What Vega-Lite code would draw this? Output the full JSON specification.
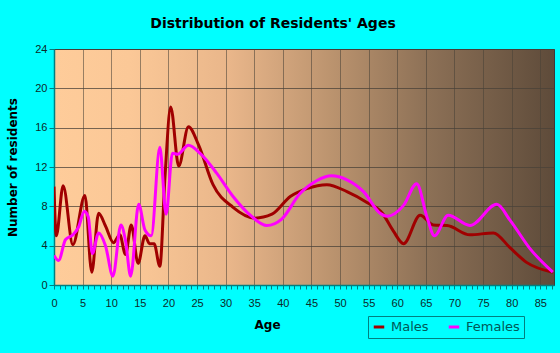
{
  "$schema": "https://vega.github.io/schema/vega-lite/v6.json",
  "width": 500,
  "height": 236,
  "autosize": {"type": "none"},
  "padding": {"left": 54, "top": 49, "right": 6, "bottom": 68},
  "background": "#00FFFF",
  "title": {
    "text": "Distribution of Residents' Ages",
    "font": "DejaVu Sans",
    "fontSize": 14,
    "fontWeight": "bold",
    "color": "#000000",
    "anchor": "middle",
    "dx": -31,
    "offset": 12
  },
  "config": {
    "view": {
      "fill": {
        "gradient": "linear",
        "x1": 0, "y1": 0, "x2": 1, "y2": 0,
        "stops": [
          {"offset": 0, "color": "#FECC9A"},
          {"offset": 0.15, "color": "#FBC897"},
          {"offset": 0.35, "color": "#E9B68A"},
          {"offset": 0.55, "color": "#BC946F"},
          {"offset": 0.75, "color": "#8C7056"},
          {"offset": 1, "color": "#5E4B3A"}
        ]
      },
      "stroke": "#3a3a3a",
      "strokeWidth": 1
    },
    "axis": {
      "labelFont": "Liberation Sans",
      "labelFontSize": 11,
      "labelColor": "#0d2a2a",
      "titleFont": "DejaVu Sans",
      "titleFontSize": 12,
      "titleFontWeight": "bold",
      "titleColor": "#000000",
      "domainColor": "#007F7F",
      "domainWidth": 1.5,
      "tickColor": "#007F7F",
      "gridColor": "#4a4238",
      "gridOpacity": 0.75,
      "gridWidth": 1
    }
  },
  "datasets": {
    "ages": [
      {"age": 0, "value": 10.0, "sex": "Males"},
      {"age": 0.4, "value": 5.0, "sex": "Males"},
      {"age": 1.6, "value": 10.1, "sex": "Males"},
      {"age": 3.3, "value": 4.1, "sex": "Males"},
      {"age": 5.4, "value": 9.1, "sex": "Males"},
      {"age": 6.6, "value": 1.3, "sex": "Males"},
      {"age": 7.8, "value": 7.3, "sex": "Males"},
      {"age": 9.0, "value": 6.0, "sex": "Males"},
      {"age": 10.4, "value": 4.3, "sex": "Males"},
      {"age": 11.5, "value": 5.1, "sex": "Males"},
      {"age": 12.5, "value": 3.1, "sex": "Males"},
      {"age": 13.5, "value": 6.1, "sex": "Males"},
      {"age": 14.7, "value": 2.2, "sex": "Males"},
      {"age": 15.9, "value": 5.0, "sex": "Males"},
      {"age": 16.7, "value": 4.2, "sex": "Males"},
      {"age": 17.5, "value": 4.2, "sex": "Males"},
      {"age": 18.5, "value": 1.9, "sex": "Males"},
      {"age": 19.4, "value": 11.0, "sex": "Males"},
      {"age": 20.4, "value": 18.1, "sex": "Males"},
      {"age": 21.8, "value": 12.1, "sex": "Males"},
      {"age": 23.5, "value": 16.1, "sex": "Males"},
      {"age": 25.3, "value": 14.2, "sex": "Males"},
      {"age": 27.8, "value": 10.2, "sex": "Males"},
      {"age": 31.3, "value": 7.9, "sex": "Males"},
      {"age": 35.1, "value": 6.8, "sex": "Males"},
      {"age": 38.1, "value": 7.2, "sex": "Males"},
      {"age": 41.3, "value": 9.0, "sex": "Males"},
      {"age": 44.2, "value": 9.8, "sex": "Males"},
      {"age": 47.7, "value": 10.2, "sex": "Males"},
      {"age": 51.2, "value": 9.5, "sex": "Males"},
      {"age": 54.7, "value": 8.4, "sex": "Males"},
      {"age": 57.4, "value": 7.3, "sex": "Males"},
      {"age": 59.3, "value": 5.5, "sex": "Males"},
      {"age": 61.1, "value": 4.2, "sex": "Males"},
      {"age": 64.0, "value": 7.1, "sex": "Males"},
      {"age": 66.3, "value": 6.1, "sex": "Males"},
      {"age": 68.7, "value": 6.05, "sex": "Males"},
      {"age": 72.7, "value": 5.1, "sex": "Males"},
      {"age": 76.8, "value": 5.3, "sex": "Males"},
      {"age": 79.7, "value": 3.8, "sex": "Males"},
      {"age": 82.6, "value": 2.3, "sex": "Males"},
      {"age": 87.2, "value": 1.3, "sex": "Males"},
      {"age": 0, "value": 3.0, "sex": "Females"},
      {"age": 0.8, "value": 2.5, "sex": "Females"},
      {"age": 2.0, "value": 4.6, "sex": "Females"},
      {"age": 3.3, "value": 5.1, "sex": "Females"},
      {"age": 4.3, "value": 5.9, "sex": "Females"},
      {"age": 5.3, "value": 7.5, "sex": "Females"},
      {"age": 6.0, "value": 6.9, "sex": "Females"},
      {"age": 6.7, "value": 3.2, "sex": "Females"},
      {"age": 7.8, "value": 5.3, "sex": "Females"},
      {"age": 9.0, "value": 4.0, "sex": "Females"},
      {"age": 10.3, "value": 0.9, "sex": "Females"},
      {"age": 11.7, "value": 6.1, "sex": "Females"},
      {"age": 12.5, "value": 4.5, "sex": "Females"},
      {"age": 13.4, "value": 0.9, "sex": "Females"},
      {"age": 14.8, "value": 8.2, "sex": "Females"},
      {"age": 15.9, "value": 5.6, "sex": "Females"},
      {"age": 17.0, "value": 5.0, "sex": "Females"},
      {"age": 18.5, "value": 14.0, "sex": "Females"},
      {"age": 19.6, "value": 7.2, "sex": "Females"},
      {"age": 20.7, "value": 13.4, "sex": "Females"},
      {"age": 21.6, "value": 13.3, "sex": "Females"},
      {"age": 23.5, "value": 14.2, "sex": "Females"},
      {"age": 25.5, "value": 13.4, "sex": "Females"},
      {"age": 28.4, "value": 11.4, "sex": "Females"},
      {"age": 31.3, "value": 9.0, "sex": "Females"},
      {"age": 34.3, "value": 7.1, "sex": "Females"},
      {"age": 37.2, "value": 6.05, "sex": "Females"},
      {"age": 39.8, "value": 6.7, "sex": "Females"},
      {"age": 43.0, "value": 9.3, "sex": "Females"},
      {"age": 45.9, "value": 10.6, "sex": "Females"},
      {"age": 48.5, "value": 11.1, "sex": "Females"},
      {"age": 51.2, "value": 10.7, "sex": "Females"},
      {"age": 54.1, "value": 9.5, "sex": "Females"},
      {"age": 57.0, "value": 7.3, "sex": "Females"},
      {"age": 58.2, "value": 7.0, "sex": "Females"},
      {"age": 61.1, "value": 8.1, "sex": "Females"},
      {"age": 63.4, "value": 10.3, "sex": "Females"},
      {"age": 65.2, "value": 6.9, "sex": "Females"},
      {"age": 66.5, "value": 5.0, "sex": "Females"},
      {"age": 68.9, "value": 7.1, "sex": "Females"},
      {"age": 72.7, "value": 6.05, "sex": "Females"},
      {"age": 77.4, "value": 8.2, "sex": "Females"},
      {"age": 79.7, "value": 6.6, "sex": "Females"},
      {"age": 83.2, "value": 3.7, "sex": "Females"},
      {"age": 87.2, "value": 1.3, "sex": "Females"}
    ]
  },
  "data": {"name": "ages"},
  "mark": {"type": "line", "interpolate": "monotone", "strokeWidth": 3, "clip": true},
  "encoding": {
    "x": {
      "field": "age",
      "type": "quantitative",
      "scale": {"domain": [0, 87.4], "nice": false, "zero": false},
      "axis": {
        "title": "Age",
        "values": [0,1,2,3,4,5,6,7,8,9,10,11,12,13,14,15,16,17,18,19,20,21,22,23,24,25,26,27,28,29,30,31,32,33,34,35,36,37,38,39,40,41,42,43,44,45,46,47,48,49,50,51,52,53,54,55,56,57,58,59,60,61,62,63,64,65,66,67,68,69,70,71,72,73,74,75,76,77,78,79,80,81,82,83,84,85,86,87],
        "labelExpr": "datum.value % 5 === 0 ? datum.label : ''",
        "gridOpacity": {"condition": {"test": "datum.value % 5 === 0 && datum.value > 0", "value": 0.75}, "value": 0},
        "tickSize": 4,
        "labelPadding": 8,
        "labelOverlap": false,
        "labelFlush": false,
        "titleX": 213,
        "titleY": 39,
        "titleBaseline": "middle",
        "titleAnchor": null
      }
    },
    "y": {
      "field": "value",
      "type": "quantitative",
      "scale": {"domain": [0, 24], "nice": false},
      "axis": {
        "title": "Number of residents",
        "values": [0, 4, 8, 12, 16, 20, 24],
        "tickSize": 5,
        "labelPadding": 2,
        "titleAngle": -90,
        "titleX": -42,
        "titleY": 118,
        "titleAlign": "center",
        "titleBaseline": "middle"
      }
    },
    "color": {
      "field": "sex",
      "type": "nominal",
      "scale": {"domain": ["Males", "Females"], "range": ["#A00000", "#FF00FF"]},
      "legend": {
        "title": null,
        "orient": "none",
        "legendX": 314,
        "legendY": 267,
        "direction": "horizontal",
        "symbolType": "stroke",
        "symbolSize": 110,
        "symbolStrokeWidth": 3,
        "labelFont": "DejaVu Sans",
        "labelFontSize": 13,
        "labelColor": "#005858",
        "labelOffset": 5,
        "columnPadding": 13,
        "padding": 4,
        "strokeColor": "#008080"
      }
    }
  }
}
